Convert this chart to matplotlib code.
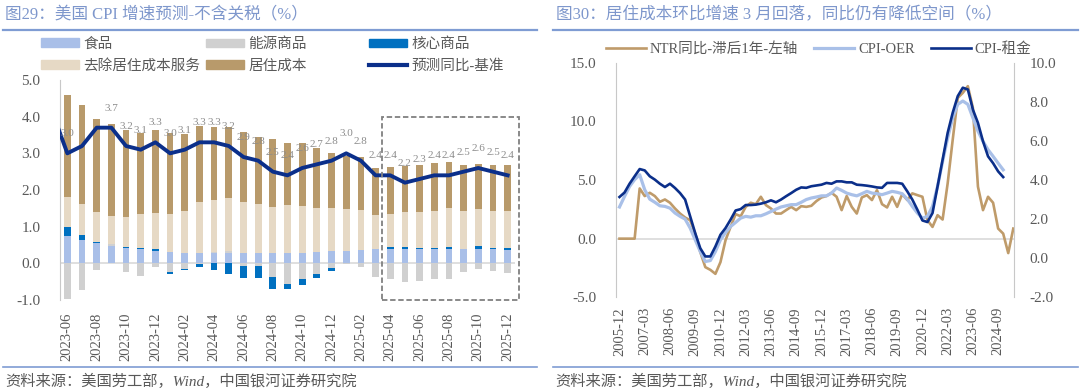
import numpy as np
import pandas as pd
import matplotlib
matplotlib.use('Agg')
import matplotlib.pyplot as plt
from matplotlib.patches import Rectangle, Patch
from matplotlib.lines import Line2D

plt.rcParams['font.family'] = ['Liberation Serif', 'Noto Sans CJK SC']
plt.rcParams['axes.unicode_minus'] = False

# ---------------- 图29: bidrag til CPI (pp) ----------------
months = ['2023-06', '2023-07', '2023-08', '2023-09', '2023-10', '2023-11', '2023-12',
          '2024-01', '2024-02', '2024-03', '2024-04', '2024-05', '2024-06', '2024-07',
          '2024-08', '2024-09', '2024-10', '2024-11', '2024-12', '2025-01', '2025-02',
          '2025-03', '2025-04', '2025-05', '2025-06', '2025-07', '2025-08', '2025-09',
          '2025-10', '2025-11', '2025-12']
food = [0.75, 0.64, 0.55, 0.48, 0.43, 0.39, 0.35, 0.32, 0.29, 0.29, 0.27, 0.27, 0.29, 0.29,
        0.27, 0.29, 0.29, 0.32, 0.35, 0.35, 0.37, 0.39, 0.39, 0.40, 0.40, 0.38, 0.40, 0.38,
        0.39, 0.38, 0.37]
energy = [-0.97, -0.74, -0.17, 0.06, -0.23, -0.34, -0.10, -0.23, -0.15, -0.02, 0.03, 0.06,
          -0.08, -0.06, -0.38, -0.55, -0.43, -0.30, -0.12, -0.01, -0.11, -0.38, -0.43, -0.52,
          -0.48, -0.44, -0.44, -0.23, -0.16, -0.20, -0.27]
core = [0.23, 0.13, 0.03, 0.00, 0.02, 0.02, 0.03, -0.05, -0.04, -0.08, -0.19, -0.30, -0.32,
        -0.33, -0.31, -0.14, -0.16, -0.09, -0.09, -0.02, 0.00, 0.00, 0.05, 0.05, 0.01, 0.03,
        0.04, 0.01, 0.07, 0.05, 0.04]
services_ex_shelter = [0.82, 0.85, 0.82, 0.76, 0.82, 0.94, 0.99, 1.03, 1.13, 1.39, 1.42,
                       1.45, 1.39, 1.33, 1.26, 1.29, 1.28, 1.19, 1.16, 1.13, 1.09, 0.92,
                       0.90, 0.95, 0.99, 1.03, 1.07, 1.03, 1.02, 1.01, 1.02]
shelter = [2.78, 2.70, 2.55, 2.51, 2.36, 2.20, 2.26, 2.20, 2.11, 2.07, 2.01, 1.93, 1.89,
           1.83, 1.86, 1.71, 1.72, 1.64, 1.51, 1.45, 1.43, 1.29, 1.28, 1.25, 1.29, 1.30,
           1.25, 1.26, 1.23, 1.25, 1.25]
cpi_base = [3.0, 3.2, 3.7, 3.7, 3.2, 3.1, 3.3, 3.0, 3.1, 3.3, 3.3, 3.2, 2.9, 2.8, 2.5, 2.4,
            2.6, 2.7, 2.8, 3.0, 2.8, 2.4, 2.4, 2.2, 2.3, 2.4, 2.4, 2.5, 2.6, 2.5, 2.4]
cpi_base_prev = 4.1      # 2023-05, linja kommer inn fra venstre kant
hidden_labels = [1, 2]   # disse etikettene vises ikke i originalen

# ---------------- 图30: kvartalsvis, fra 2005-12 ----------------
q_start = '2005-12-01'
ntr_lag = [0, 0, 0, 0, 4.28, 3.63, 3.91, 3.63, 3.14, 3.34,
           3.06, 2.57, 2.14, 1.80, 1.57, 0.43, -1.14, -2.43, -2.66, -3.0,
           -2.0, -0.14, 1.0, 2.09, 1.91, 2.71, 3.06, 2.94, 3.57, 2.86,
           2.57, 2.14, 2.14, 2.43, 2.71, 2.43, 2.77, 2.71, 2.80, 3.20,
           3.51, 3.63, 3.91, 3.57, 2.43, 3.63, 2.71, 2.14, 3.51, 3.71,
           3.29, 4.14, 2.94, 2.66, 3.57, 2.71, 3.80, 3.29, 3.86, 3.71,
           3.57, 1.57, 1.0, 2.0, 1.63, 4.71, 8.43, 12.0, 12.43, 13.0,
           11.14, 4.43, 2.43, 3.57, 3.06, 0.86, 0.43, -1.23, 0.86]
cpi_oer = [2.62, 3.16, 3.67, 4.02, 4.27, 3.50, 3.02, 2.86, 2.68, 2.65,
           2.56, 2.31, 2.14, 2.0, 1.54, 0.94, 0.34, -0.17, -0.12, 0.34,
           0.94, 1.31, 1.62, 1.83, 2.05, 2.14, 2.10, 2.17, 2.17, 2.27,
           2.39, 2.51, 2.62, 2.68, 2.74, 2.74, 2.86, 3.0, 3.08, 3.13,
           3.19, 3.19, 3.33, 3.59, 3.47, 3.33, 3.25, 3.19, 3.30, 3.42,
           3.33, 3.30, 3.25, 3.33, 3.42, 3.37, 3.30, 3.02, 2.65, 2.31,
           2.05, 2.14, 2.65, 3.67, 4.95, 6.15, 7.18, 7.87, 8.04, 7.87,
           7.18, 6.50, 5.98, 5.55, 5.21, 4.86, 4.52]
cpi_rent = [3.13, 3.36, 3.81, 4.19, 4.56, 4.49, 4.19, 4.02, 3.81, 3.64,
            3.81, 3.59, 3.33, 3.0, 2.14, 1.28, 0.51, 0.09, 0.09, 0.60,
            1.20, 1.54, 1.97, 2.44, 2.51, 2.72, 2.72, 2.74, 2.79, 2.86,
            2.96, 2.86, 3.0, 3.17, 3.33, 3.50, 3.62, 3.60, 3.68, 3.72,
            3.76, 3.85, 3.81, 3.93, 3.93, 3.88, 3.88, 3.76, 3.74, 3.71,
            3.67, 3.62, 3.60, 3.85, 3.85, 3.85, 3.81, 3.42, 3.0, 2.48,
            1.93, 1.85, 2.31, 3.67, 5.04, 6.41, 7.44, 8.29, 8.72, 8.63,
            7.60, 6.92, 5.98, 5.21, 4.86, 4.44, 4.15]

# farger
c_food = '#A9BFE8'
c_energy = '#D0D0D0'
c_core = '#0070C0'
c_svc = '#E6D9C5'
c_shelter = '#B89A6B'
c_navy = '#0B2F8A'
c_oer = '#A9C0E8'
c_title = '#7E97CC'
c_rule = '#7F9CD3'
c_axis = '#C8C8C8'
c_text = '#595959'

W, H = 1080, 391


def fx(px):
    return px / W


def fy(py):
    return 1 - py / H


fig = plt.figure(figsize=(W / 100, H / 100), dpi=100)

# ================= venstre: 图29 =================
ax1 = fig.add_axes([fx(60), fy(300), fx(515) - fx(60), fy(80) - fy(300)])
n = len(months)
x = np.arange(n)
pos_base = np.zeros(n)
neg_base = np.zeros(n)
series = [(food, c_food, '食品'), (energy, c_energy, '能源商品'), (core, c_core, '核心商品'),
          (services_ex_shelter, c_svc, '去除居住成本服务'), (shelter, c_shelter, '居住成本')]
for vals, col, lab in series:
    v = np.array(vals, dtype=float)
    bottoms = np.where(v >= 0, pos_base, neg_base)
    ax1.bar(x, v, width=0.46, bottom=bottoms, color=col, label=lab, zorder=2)
    pos_base += np.clip(v, 0, None)
    neg_base += np.clip(v, None, 0)

ax1.plot(np.arange(-1, n), [cpi_base_prev] + cpi_base, color=c_navy, lw=2.8,
         solid_joinstyle='round', zorder=3)
for i, v in enumerate(cpi_base):
    if i in hidden_labels:
        continue
    ax1.annotate(f'{v:.1f}', (i, v), xytext=(0, 14), textcoords='offset points',
                 ha='center', va='center', fontsize=8, color='#8C8C8C', zorder=4)

ax1.axhline(0, color='#D9D9D9', lw=1.2, zorder=1)
ax1.set_xlim(-0.5, n - 0.5)
ax1.set_ylim(-1, 5)
yt = np.arange(-1, 5.01, 1)
ax1.set_yticks(yt)
ax1.set_yticklabels([f'{t:.1f}' for t in yt])
ax1.set_xticks(x[::2])
ax1.set_xticklabels(months[::2], rotation=90)
ax1.tick_params(axis='y', length=0, pad=14, labelsize=11, labelcolor=c_text)
ax1.tick_params(axis='x', length=0, pad=9, labelsize=10.5, labelcolor=c_text)
for s in ['top', 'right', 'bottom']:
    ax1.spines[s].set_visible(False)
ax1.spines['left'].set_color(c_axis)

# stiplet boks rundt prognoseperioden
ax1.add_patch(Rectangle((21.45, -1.0), 9.35, 5.0, fill=False, ec='#808080',
                        ls=(0, (3, 1.5)), lw=1.3, clip_on=False, zorder=5))

# legend i tre kolonner (ujevn avstand som i originalen)
h = {lab: Patch(color=col) for _, col, lab in series}
h_line = Line2D([], [], color=c_navy, lw=3)
leg_cols = [(41, [h['食品'], h['去除居住成本服务']], ['食品', '去除居住成本服务']),
            (206, [h['能源商品'], h['居住成本']], ['能源商品', '居住成本']),
            (369, [h['核心商品'], h_line], ['核心商品', '预测同比-基准'])]
for px, hs, ls in leg_cols:
    fig.legend(hs, ls, loc='upper left', bbox_to_anchor=(fx(px), fy(37.5)),
               frameon=False, fontsize=10.5, handlelength=2.6, handleheight=0.55,
               handletextpad=0.3, labelspacing=0.56, borderpad=0, borderaxespad=0,
               labelcolor=c_text)

# ================= høyre: 图30 =================
ax2 = fig.add_axes([fx(615.7), fy(297.3), fx(1014.3) - fx(615.7), fy(62.7) - fy(297.3)])
ax3 = ax2.twinx()
xq = np.arange(len(ntr_lag))
qlabels = list(pd.date_range(q_start, periods=len(ntr_lag), freq='3MS').strftime('%Y-%m'))

ax2.axhline(0, color='#D9D9D9', lw=1.2, zorder=1)
l_ntr, = ax2.plot(xq, ntr_lag, color='#BF9B6A', lw=1.9, zorder=2)
l_oer, = ax3.plot(xq[:len(cpi_oer)], cpi_oer, color=c_oer, lw=2.3, zorder=2)
l_rent, = ax3.plot(xq[:len(cpi_rent)], cpi_rent, color=c_navy, lw=1.9, zorder=3)

ax2.set_xlim(-0.75, 78.2)
ax2.set_ylim(-5, 15)
ax3.set_ylim(-2, 10)
t2 = np.arange(-5, 15.01, 5)
t3 = np.arange(-2, 10.01, 2)
ax2.set_yticks(t2)
ax2.set_yticklabels([f'{t:.1f}' for t in t2])
ax3.set_yticks(t3)
ax3.set_yticklabels([f'{t:.1f}' for t in t3])
ax2.set_xticks(xq[::5])
ax2.set_xticklabels(qlabels[::5], rotation=90)
ax2.tick_params(axis='y', length=0, pad=14, labelsize=11, labelcolor=c_text)
ax3.tick_params(axis='y', length=0, pad=11, labelsize=11, labelcolor=c_text)
ax2.tick_params(axis='x', length=0, pad=7, labelsize=10.5, labelcolor=c_text)
for a in (ax2, ax3):
    for s in ['top', 'bottom']:
        a.spines[s].set_visible(False)
ax2.spines['right'].set_visible(False)
ax3.spines['left'].set_visible(False)
ax2.spines['left'].set_color(c_axis)
ax3.spines['right'].set_color(c_axis)

fig.legend([l_ntr, l_oer, l_rent], ['NTR同比-滞后1年-左轴', 'CPI-OER', 'CPI-租金'],
           loc='center left', bbox_to_anchor=(fx(606), fy(49)), ncol=3, frameon=False,
           fontsize=10.5, handlelength=2.75, handletextpad=0.25, columnspacing=1.1,
           borderpad=0, borderaxespad=0, labelcolor=c_text)

# ================= titler, linjer og kilde =================
fig.text(fx(5), fy(15.5), '图29：美国 CPI 增速预测-不含关税（%）', ha='left', va='center',
         fontsize=12, color=c_title)
fig.text(fx(556), fy(15.5), '图30：居住成本环比增速 3 月回落，同比仍有降低空间（%）',
         ha='left', va='center', fontsize=12, color=c_title)
for x0, x1 in [(3, 537), (553, 1078)]:
    fig.add_artist(Line2D([fx(x0), fx(x1)], [fy(29.5)] * 2, transform=fig.transFigure,
                          color=c_rule, lw=1.6))
    fig.add_artist(Line2D([fx(x0), fx(x1)], [fy(367)] * 2, transform=fig.transFigure,
                          color=c_rule, lw=1.2))
src = '资料来源：美国劳工部，Wind，中国银河证券研究院'
fig.text(fx(5), fy(381), src, ha='left', va='center', fontsize=11, color=c_text,
         style='italic')
fig.text(fx(555), fy(381), src, ha='left', va='center', fontsize=11, color=c_text,
         style='italic')

fig.savefig('out.png', dpi=100)
